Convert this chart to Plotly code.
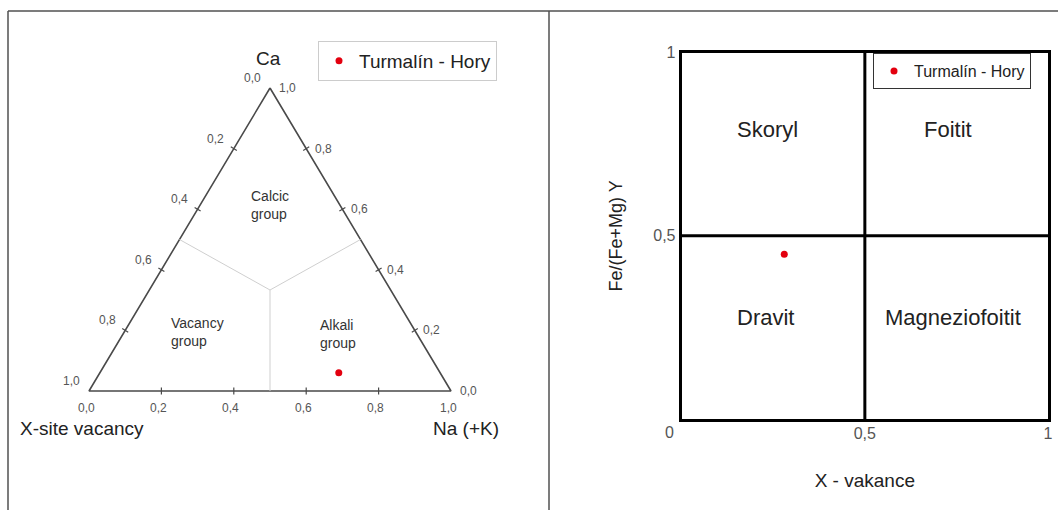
import plotly.graph_objects as go

# ---------------- data ----------------
sample_name = "Turmalín - Hory"
# ternary X-site composition (Ca, Na(+K), vacancy)
sample_ca = [0.06]
sample_na = [0.66]
sample_vac = [0.28]
# right diagram
sample_xvac = [0.28]
sample_fe = [0.45]

tern_ticks = [0.0, 0.2, 0.4, 0.6, 0.8, 1.0]
tern_tick_labels = ["0,0", "0,2", "0,4", "0,6", "0,8", "1,0"]
group_names = ["Calcic<br>group", "Vacancy<br>group", "Alkali<br>group"]

sq_ticks = [0.0, 0.5, 1.0]
sq_tick_labels = ["0", "0,5", "1"]
quad_split = 0.5
quad_names = ["Skoryl", "Foitit", "Dravit", "Magneziofoitit"]

FONT = "Liberation Sans, Arial, sans-serif"
W, H = 1058, 510


def txy(ca, na):
    """ternary (Ca, Na) -> cartesian of the triangle"""
    return na + ca / 2.0, ca


fig = go.Figure()

# ---------- ternary frame ----------
corners = [(1, 0), (0, 0), (0, 1), (1, 0)]  # (Ca, Na): Ca apex, vacancy corner, Na corner
cx = [txy(c, n)[0] for c, n in corners]
cy = [txy(c, n)[1] for c, n in corners]
fig.add_trace(go.Scatter(x=cx, y=cy, mode="lines", line=dict(color="#4a4a4a", width=1.6),
                         hoverinfo="skip", showlegend=False, xaxis="x", yaxis="y"))

# group boundaries: centroid -> edge midpoints
centre = (1 / 3, 1 / 3)
mids = [(0.5, 0.0), (0.5, 0.5), (0.0, 0.5)]
for m in mids:
    p0 = txy(*centre)
    p1 = txy(*m)
    fig.add_trace(go.Scatter(x=[p0[0], p1[0]], y=[p0[1], p1[1]], mode="lines",
                             line=dict(color="#cfcfcf", width=1), hoverinfo="skip",
                             showlegend=False, xaxis="x", yaxis="y"))

# tick marks
inner = [t for t in tern_ticks if 0 < t < 1]
lx = [txy(1 - v, 0)[0] for v in inner]
ly = [txy(1 - v, 0)[1] for v in inner]
rx = [txy(c, 1 - c)[0] for c in inner]
ry = [txy(c, 1 - c)[1] for c in inner]
bx = [txy(0, n)[0] for n in inner]
by = [txy(0, n)[1] for n in inner]
for xs, ys, sym, ang in [(lx, ly, "line-ew", 31), (rx, ry, "line-ew", -31), (bx, by, "line-ns", 0)]:
    fig.add_trace(go.Scatter(x=xs, y=ys, mode="markers",
                             marker=dict(symbol=sym, size=5, angle=ang,
                                         line=dict(color="#4a4a4a", width=1.2)),
                             hoverinfo="skip", showlegend=False, xaxis="x", yaxis="y"))

# sample point (ternary)
sx = [txy(c, n)[0] for c, n in zip(sample_ca, sample_na)]
sy = [txy(c, n)[1] for c, n in zip(sample_ca, sample_na)]
fig.add_trace(go.Scatter(x=sx, y=sy, mode="markers", name=sample_name,
                         marker=dict(color="#e3000f", size=7),
                         legend="legend", xaxis="x", yaxis="y"))

# ---------- right diagram ----------
fig.add_trace(go.Scatter(x=sample_xvac, y=sample_fe, mode="markers", name=sample_name,
                         marker=dict(color="#e3000f", size=7),
                         legend="legend2", xaxis="x2", yaxis="y2"))

annotations = []
tick_font = dict(family=FONT, size=12, color="#555555")
for v, lab in zip(tern_ticks, tern_tick_labels):
    x, y = txy(1 - v, 0)   # left edge: vacancy fraction
    annotations.append(dict(x=x, y=y, xref="x", yref="y", text=lab, showarrow=False,
                            xshift=-18, yshift=10, font=tick_font))
    x, y = txy(v, 1 - v)   # right edge: Ca fraction
    annotations.append(dict(x=x, y=y, xref="x", yref="y", text=lab, showarrow=False,
                            xshift=17, yshift=0, font=tick_font))
    x, y = txy(0, v)       # bottom edge: Na fraction
    annotations.append(dict(x=x, y=y, xref="x", yref="y", text=lab, showarrow=False,
                            xshift=-3, yshift=-17, font=tick_font))

grp_font = dict(family=FONT, size=14, color="#333333")
grp_pos = [(0.614, 0.193), (0.195, 0.2025), (0.188, 0.594)]
for name, (c, n) in zip(group_names, grp_pos):
    x, y = txy(c, n)
    annotations.append(dict(x=x, y=y, xref="x", yref="y", text=name, showarrow=False,
                            align="left", font=grp_font))

title_font = dict(family=FONT, size=19, color="#222222")
ax_, ay_ = txy(1, 0)
annotations.append(dict(x=ax_, y=ay_, xref="x", yref="y", text="Ca", showarrow=False,
                        yshift=30, xshift=-2, yanchor="middle", font=title_font))
annotations.append(dict(x=18 / W, y=1 - 428 / H, xref="paper", yref="paper", text="X-site vacancy",
                        showarrow=False, xanchor="left", yanchor="middle", font=title_font))
annotations.append(dict(x=501 / W, y=1 - 428 / H, xref="paper", yref="paper", text="Na (+K)",
                        showarrow=False, xanchor="right", yanchor="middle", font=title_font))

quad_font = dict(family=FONT, size=22, color="#222222")
quad_pos = [(0.234, 0.79), (0.728, 0.79), (0.229, 0.278), (0.741, 0.278)]
for name, (x, y) in zip(quad_names, quad_pos):
    annotations.append(dict(x=x, y=y, xref="x2", yref="y2", text=name, showarrow=False,
                            font=quad_font))
annotations.append(dict(x=sq_ticks[0], y=sq_ticks[0], xref="x2", yref="y2", text=sq_tick_labels[0],
                        showarrow=False, xshift=-12, yshift=-13,
                        font=dict(family=FONT, size=16, color="#555555")))

shapes = []
# quadrant dividers
shapes.append(dict(type="line", xref="x2", yref="y2", x0=quad_split, x1=quad_split, y0=0, y1=1,
                   line=dict(color="black", width=3)))
shapes.append(dict(type="line", xref="x2", yref="y2", x0=0, x1=1, y0=quad_split, y1=quad_split,
                   line=dict(color="black", width=3)))
# page frame
frame = dict(color="#505050", width=1.5)
shapes.append(dict(type="line", xref="paper", yref="paper", x0=8 / W, x1=1, y0=1 - 11 / H, y1=1 - 11 / H, line=frame))
shapes.append(dict(type="line", xref="paper", yref="paper", x0=8 / W, x1=8 / W, y0=0, y1=1 - 11 / H, line=frame))
shapes.append(dict(type="line", xref="paper", yref="paper", x0=549 / W, x1=549 / W, y0=0, y1=1 - 11 / H, line=frame))

# left axes calibration (pixels)
L, R, B, T = 89, 451, 391, 88
xr = [-L / (R - L), (549 - L) / (R - L)]
yr = [-(H - B) / (B - T), B / (B - T)]

fig.update_layout(
    template="none",
    width=W, height=H, margin=dict(l=0, r=0, t=0, b=0, pad=0), autosize=False,
    paper_bgcolor="white", plot_bgcolor="white",
    font=dict(family=FONT, color="#222222"),
    xaxis=dict(domain=[0, 549 / W], range=xr, visible=False, fixedrange=True, automargin=False),
    yaxis=dict(domain=[0, 1], range=yr, visible=False, fixedrange=True, automargin=False),
    xaxis2=dict(domain=[681.7 / W, 1048 / W], range=[0, 1], anchor="y2", automargin=False,
                showline=True, mirror=True, linewidth=3, linecolor="black",
                showgrid=False, zeroline=False, ticks="", ticklabelstandoff=-2,
                tickvals=sq_ticks[1:], ticktext=sq_tick_labels[1:],
                tickfont=dict(family=FONT, size=16, color="#555555"),
                title=dict(text="X - vakance", font=dict(family=FONT, size=19, color="#222222"), standoff=33)),
    yaxis2=dict(domain=[(H - 419) / H, (H - 52.7) / H], range=[0, 1], anchor="x2", automargin=False,
                showline=True, mirror=True, linewidth=3, linecolor="black",
                showgrid=False, zeroline=False, ticks="",
                tickvals=sq_ticks[1:], ticktext=sq_tick_labels[1:],
                tickfont=dict(family=FONT, size=16, color="#555555"),
                title=dict(text="Fe/(Fe+Mg) Y", font=dict(family=FONT, size=18, color="#222222"), standoff=26)),
    legend=dict(x=318 / W, y=1 - 41 / H, xanchor="left", yanchor="top",
                bordercolor="#cccccc", borderwidth=1, bgcolor="white",
                font=dict(family=FONT, size=19, color="#222222")),
    legend2=dict(x=873 / W, y=1 - 53 / H, xanchor="left", yanchor="top",
                 bordercolor="#333333", borderwidth=1, bgcolor="white",
                 font=dict(family=FONT, size=16, color="#222222")),
    annotations=annotations,
    shapes=shapes,
)

fig.write_html("out.html")
